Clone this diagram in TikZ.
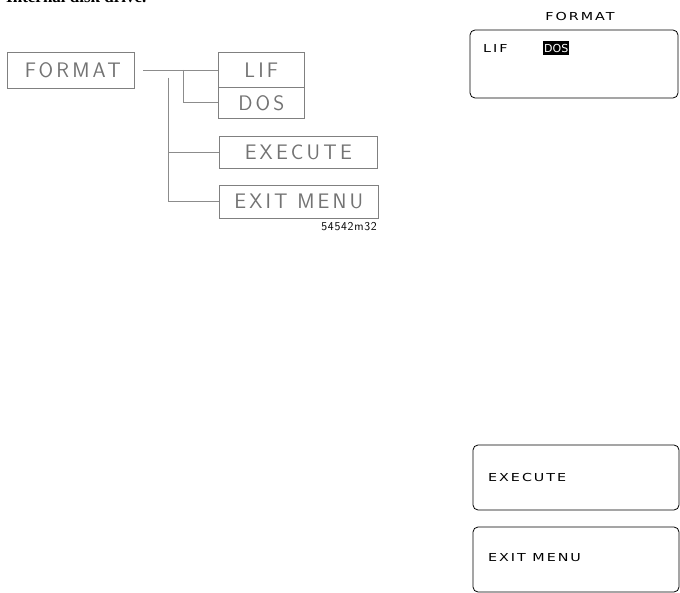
\documentclass[tikz,border=0pt]{standalone}
\usepackage{fontspec}
\setmainfont{Liberation Serif}
\newfontfamily\lcd[FakeStretch=1.3,LetterSpace=18]{DejaVu Sans}
\newfontfamily\lcdtight{DejaVu Sans}
\newfontfamily\treefont[LetterSpace=15]{Latin Modern Sans}
\newfontfamily\codefont[LetterSpace=6]{Latin Modern Sans}
\begin{document}
\begin{tikzpicture}[x=1pt,y=-1pt,
  treebox/.style={draw=black!50,line width=0.6pt,rectangle,inner sep=0pt,anchor=north west},
  treetext/.style={font=\treefont\fontsize{21}{21}\selectfont,text=black!55},
  treeline/.style={draw=black!45,line width=0.6pt},
  screen/.style={draw=black,line width=0.8pt,rounded corners=5pt},
  lcdfont/.style={font=\lcd\fontsize{11}{11}\selectfont},
  lcdtext/.style={lcdfont,anchor=west,inner sep=0pt}]
\useasboundingbox (0,0) rectangle (680,593);
\clip (0,0) rectangle (680,593);
% cut-off heading
\node[anchor=base west,inner sep=0pt,font=\bfseries\fontsize{17}{17}\selectfont] (head) at (6,3) {Internal disk drive.};
% left menu tree
\node[treebox,minimum width=127pt,minimum height=36pt] (fmt) at (7,52) {};
\node[treetext] (fmtt) at ([xshift=2pt]fmt.center) {FORMAT};
\node[treebox,minimum width=86pt,minimum height=35pt] (lif) at (218,52) {};
\node[treetext] (lift) at (lif.center) {LIF};
\node[treebox,minimum width=86pt,minimum height=31pt] (dos) at (218,87) {};
\node[treetext] (dost) at (dos.center) {DOS};
\node[treebox,minimum width=158pt,minimum height=32pt] (exe) at (219,136) {};
\node[treetext] (exet) at (exe.center) {EXECUTE};
\node[treebox,minimum width=159pt,minimum height=33pt] (exit) at (219,185) {};
\node[treetext] (exitt) at (exit.center) {EXIT MENU};
\node[anchor=north east,inner sep=0pt,font=\codefont\fontsize{12}{12}\selectfont] (code) at (377,222) {54542m32};
\coordinate (s) at (143,70);
\coordinate (j1) at (168,78);
\coordinate (j2) at (183,70);
\draw[treeline] (s) -- (lif.west |- s);
\draw[treeline] (j2) |- (dos.west);
\draw[treeline] (j1) |- (exe.west);
\draw[treeline] (j1) |- (exit.west);
% right screens
\node[lcdfont,inner sep=0pt] (title) at (580,17) {FORMAT};
\draw[screen] (470,30) rectangle (678,98);
\node[lcdtext] (liftxt) at (483,48) {LIF};
\node[fill=black,text=white,font=\lcdtight\fontsize{11}{11}\selectfont,inner xsep=1pt,inner ysep=2.5pt,anchor=west] (dostxt) at (543,48) {DOS};
\draw[screen] (473,445) rectangle (679,510);
\node[lcdtext] (exetxt) at (488,477) {EXECUTE};
\draw[screen] (473,527) rectangle (679,592);
\node[lcdtext] (exittxt) at (488,558) {EXIT MENU};
\end{tikzpicture}
\end{document}
